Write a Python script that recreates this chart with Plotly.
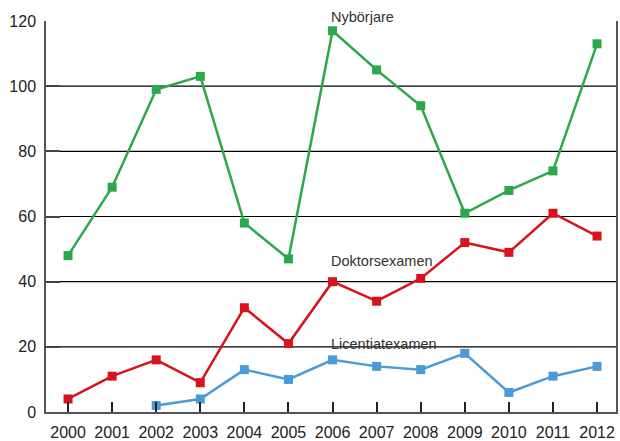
import plotly.graph_objects as go

years = list(range(2000, 2013))
nyborjare = [48, 69, 99, 103, 58, 47, 117, 105, 94, 61, 68, 74, 113]
doktorsexamen = [4, 11, 16, 9, 32, 21, 40, 34, 41, 52, 49, 61, 54]
lic_years = list(range(2002, 2013))
licentiatexamen = [2, 4, 13, 10, 16, 14, 13, 18, 6, 11, 14]

y_ticks = [0, 20, 40, 60, 80, 100, 120]
grid_vals = [20, 40, 60, 80, 100]

# etiketter: (text, y-värde, extra förskjutning i px)
labels = [
    ("Nybörjare", 120, 4),
    ("Doktorsexamen", 46.3, 0),
    ("Licentiatexamen", 20.9, 0),
]

GREEN = "#2ba84a"
RED = "#d8131d"
BLUE = "#4b9bd8"

fig = go.Figure()

for xs, ys, col in [
    (years, nyborjare, GREEN),
    (years, doktorsexamen, RED),
    (lic_years, licentiatexamen, BLUE),
]:
    fig.add_trace(go.Scatter(
        x=xs, y=ys, mode="lines+markers",
        line=dict(color=col, width=2.5),
        marker=dict(symbol="square", size=9, color=col),
        cliponaxis=False, showlegend=False,
    ))

# horisontella stödlinjer
for v in grid_vals:
    fig.add_shape(type="line", xref="paper", yref="y", x0=0, x1=1, y0=v, y1=v,
                  line=dict(color="black", width=1.1), layer="below")

for text, yv, sh in labels:
    fig.add_annotation(x=2006, y=yv, text=text, showarrow=False,
                       xanchor="left", yanchor="middle", xshift=-4, yshift=sh,
                       font=dict(size=14.5, color="#333333"))

fig.update_layout(
    width=620, height=441,
    margin=dict(l=46, r=4, t=21, b=29),
    paper_bgcolor="white", plot_bgcolor="white",
    font=dict(family="Liberation Sans, Arial, sans-serif", color="#333333"),
)
fig.update_xaxes(
    range=[1999.5, 2012.43], tickvals=years, ticks="inside", ticklen=10,
    tickcolor="#222222", tickwidth=1.5, showgrid=False, zeroline=False,
    showline=True, linecolor="#555555", linewidth=2, automargin=False,
    ticklabelstandoff=5,
    tickfont=dict(size=16, color="#222222"),
)
fig.update_yaxes(
    range=[0, 120], tickvals=y_ticks, ticks="inside", ticklen=14,
    tickcolor="#444444", tickwidth=1.5, showgrid=False, zeroline=False,
    showline=True, mirror=True, linecolor="#555555", linewidth=1.5,
    automargin=False, ticklabelstandoff=5,
    tickfont=dict(size=16, color="#222222"),
)

fig.write_html("out.html", config={"displayModeBar": False},
               post_script="document.body.style.margin='0px';")
